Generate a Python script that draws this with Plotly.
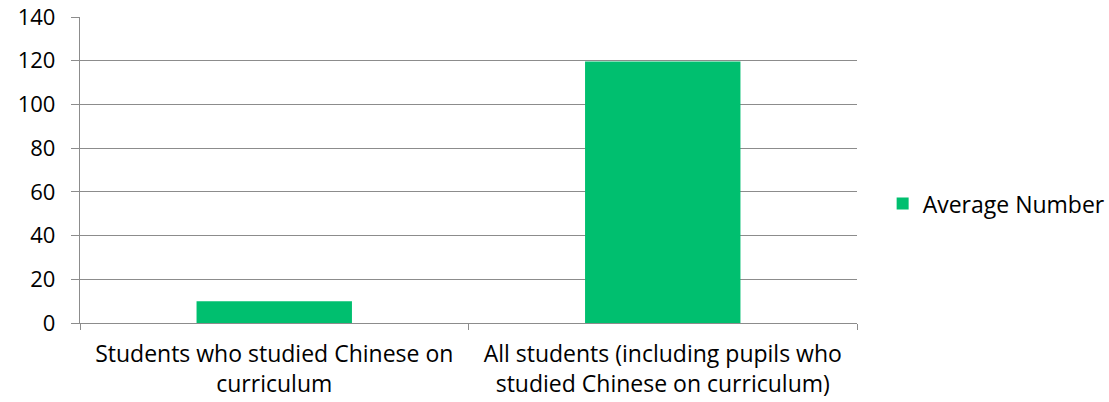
import plotly.graph_objects as go

categories = ["Students who studied Chinese on<br>curriculum",
              "All students (including pupils who<br>studied Chinese on curriculum)"]
values = [10, 119.6]
series_name = "Average Number"
y_ticks = [0, 20, 40, 60, 80, 100, 120, 140]

grid = "#8c8c8c"
font = dict(family="'Open Sans', sans-serif", size=22, color="#000000")

fig = go.Figure()
fig.add_trace(go.Bar(x=categories, y=values, name=series_name,
                     marker=dict(color="#00BF6F", line=dict(width=0)),
                     showlegend=True))
fig.update_layout(
    width=1109, height=402,
    margin=dict(l=80, r=252, t=17, b=79, autoexpand=False),
    paper_bgcolor="white", plot_bgcolor="white",
    font=font,
    bargap=0.6,
    showlegend=True,
    legend=dict(x=1.033, xanchor="left", y=0.39, yanchor="middle",
                font=dict(size=23), itemwidth=30),
)
fig.update_yaxes(range=[0, 140], tickvals=y_ticks, showgrid=True, gridcolor=grid, gridwidth=1.3,
                 showline=True, linecolor=grid, linewidth=1.3,
                 ticks="outside", ticklen=8, tickcolor=grid, tickwidth=1.3,
                 ticklabelstandoff=11, zeroline=False, automargin=False)
fig.update_xaxes(showline=True, linecolor=grid, linewidth=1.3,
                 ticks="outside", ticklen=6, tickcolor=grid, tickwidth=1.3,
                 tickfont=dict(size=23),
                 tickson="boundaries", showgrid=False, ticklabelstandoff=10, automargin=False)
fig.write_html("out.html")
